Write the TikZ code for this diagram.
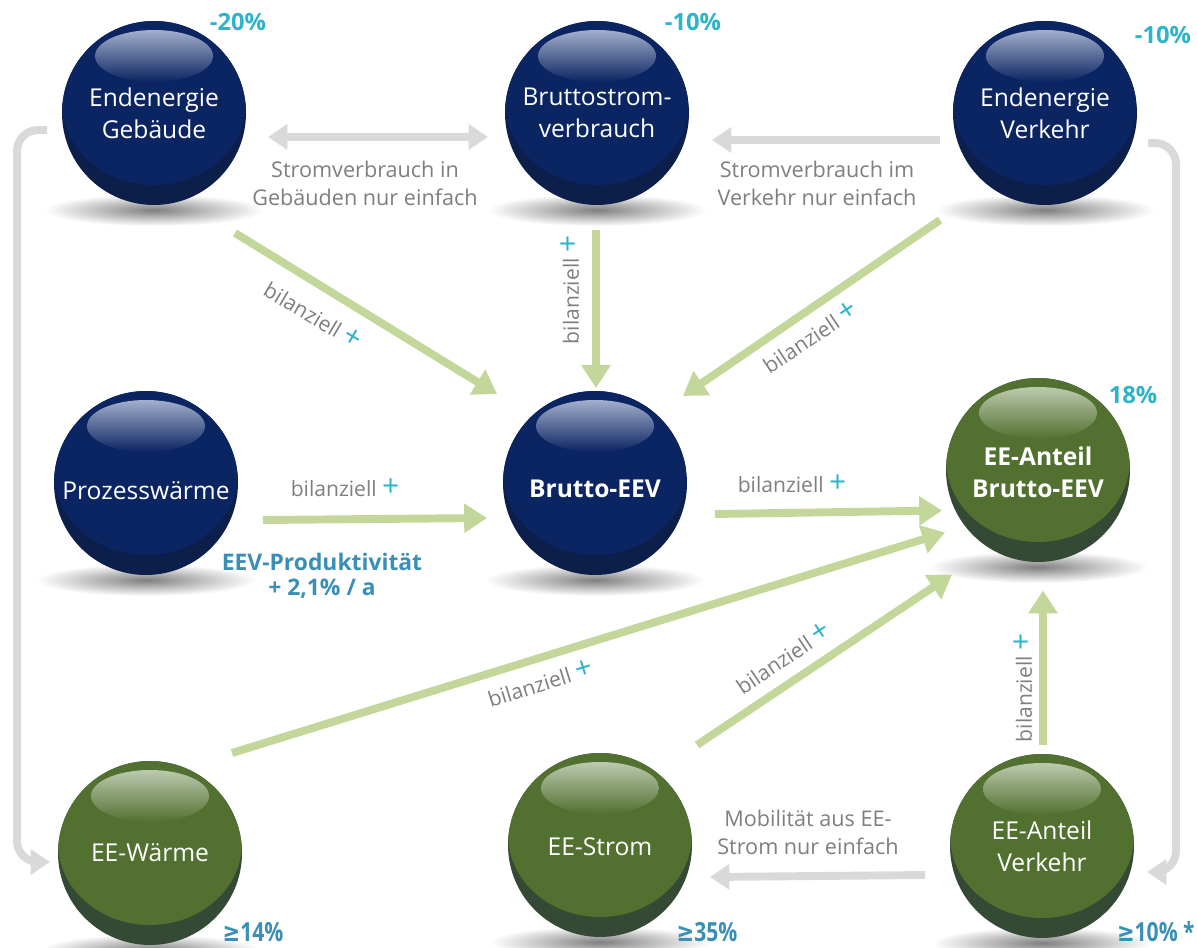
\documentclass[tikz,border=0pt]{standalone}
\usepackage{fontspec}
\setmainfont{Open Sans}
\newfontfamily\symfont{DejaVu Sans}
\usetikzlibrary{arrows.meta,calc}
\definecolor{bluebase}{HTML}{0B2462}
\definecolor{bluedark}{HTML}{0C1E4A}
\definecolor{bluehi}{HTML}{A3AFCC}
\definecolor{greenbase}{HTML}{527131}
\definecolor{greendark}{HTML}{354A34}
\definecolor{greenhi}{HTML}{BCC9AE}
\definecolor{garrow}{HTML}{C4D79B}
\definecolor{grayarrow}{HTML}{D9D9D9}
\definecolor{labgray}{HTML}{7F7F7F}
\definecolor{pcteal}{HTML}{2BB4CA}
\definecolor{pblue}{HTML}{3A8FB7}
\newcommand\plussign{\textcolor{pcteal}{\fontsize{17}{17}\selectfont +}}
\newcommand\myshadow[2]{%
  \shade[inner color=black!50, outer color=white] (#1,#2+97) ellipse[x radius=2.2cm, y radius=0.32cm];}
\newcommand\mysphere[8]{%
  \fill[#5] (#2,#3) circle[radius=1.84cm];
  \begin{scope}
    \clip (#2,#3) circle[radius=1.84cm];
    \fill[#4] (#2,#3-10) ellipse[x radius=1.84cm, y radius=1.64cm];
  \end{scope}
  \shade[top color=#6, bottom color=#4] (#2,#3-57) ellipse[x radius=1.18cm, y radius=0.52cm];
  \node[spheretext, #8] (#1) at (#2,#3) {#7};
}
\tikzset{
  spheretext/.style={align=center, text=white, font=\fontsize{14}{18}\selectfont},
  gline/.style={line width=4.5pt, draw=garrow, -{Triangle[width=16pt,length=13pt]}},
  grayline/.style={line width=4.5pt, draw=grayarrow, -{Triangle[width=14pt,length=11pt]}},
  glab/.style={align=center, text=labgray, font=\fontsize{12.3}{16}\selectfont},
  blab/.style={text=labgray, font=\fontsize{12}{14}\selectfont, inner sep=0pt},
  pct/.style={text=pcteal, font=\bfseries\fontsize{13.5}{14}\selectfont},
  pctb/.style={text=pblue, font=\bfseries\fontsize{13}{14}\selectfont},
  pctc/.style={text=pblue, font=\bfseries\fontsize{15}{16}\selectfont, xscale=0.8, inner sep=0pt},
}
\begin{document}
\begin{tikzpicture}[x=0.02cm, y=-0.02cm]
\useasboundingbox (0,0) rectangle (1197,947);
\fill[white] (0,0) rectangle (1197,947);
% shadows
\myshadow{154}{113}
\myshadow{597}{113}
\myshadow{1045}{113}
\myshadow{146}{483}
\myshadow{595}{483}
\myshadow{1038}{470}
\myshadow{150}{853}
\myshadow{600}{845}
\myshadow{1042}{846}
% spheres
\mysphere{A}{154}{113}{bluebase}{bluedark}{bluehi}{Endenergie\\Gebäude}{}
\mysphere{B}{597}{113}{bluebase}{bluedark}{bluehi}{Bruttostrom-\\verbrauch}{}
\mysphere{C}{1045}{113}{bluebase}{bluedark}{bluehi}{Endenergie\\Verkehr}{}
\mysphere{D}{146}{483}{bluebase}{bluedark}{bluehi}{Prozesswärme}{yshift=-0.16cm}
\mysphere{E}{595}{483}{bluebase}{bluedark}{bluehi}{\bfseries Brutto-EEV}{yshift=-0.12cm}
\mysphere{F}{1038}{470}{greenbase}{greendark}{greenhi}{\bfseries EE-Anteil\\\bfseries Brutto-EEV}{yshift=-0.05cm}
\mysphere{G}{150}{853}{greenbase}{greendark}{greenhi}{EE-Wärme}{}
\mysphere{H}{600}{845}{greenbase}{greendark}{greenhi}{EE-Strom}{yshift=-0.04cm}
\mysphere{I}{1042}{846}{greenbase}{greendark}{greenhi}{EE-Anteil\\Verkehr}{}
% gray connectors
\draw[grayline, {Triangle[width=14pt,length=11pt]}-{Triangle[width=14pt,length=11pt]}] ($(A.center)+(114,24)$) -- ($(B.center)+(-109,24)$);
\draw[grayline] ($(C.center)+(-105,27)$) -- ($(B.center)+(115,27)$);
\draw[grayline] ($(I.center)+(-117,29)$) -- ($(H.center)+(110,30)$);
\draw[grayline, rounded corners=12pt] ($(A.center)+(-107,17)$) -- ++(-30,0) |- ($(G.center)+(-100,9)$);
\draw[grayline, rounded corners=12pt] ($(C.center)+(103,30)$) -- ++(28,0) |- ($(I.center)+(105,26)$);
% green connectors
\draw[gline] ($(A.center)+(81,120)$) -- ($(E.center)+(-98,-95)$);
\draw[gline] ($(B.center)+(-1,117)$) -- ($(E.center)+(1,-101)$);
\draw[gline] ($(C.center)+(-105,107)$) -- ($(E.center)+(88,-93)$);
\draw[gline] ($(D.center)+(117,29)$) -- ($(E.center)+(-108,29)$);
\draw[gline] ($(E.center)+(120,25)$) -- ($(F.center)+(-96,38)$);
\draw[gline] ($(G.center)+(82,-100)$) -- ($(F.center)+(-93,60)$);
\draw[gline] ($(H.center)+(97,-102)$) -- ($(F.center)+(-86,102)$);
\draw[gline] ($(I.center)+(1,-101)$) -- ($(F.center)+(5,118)$);
% gray labels
\node[glab] (t1) at (365,183) {Stromverbrauch in\\Gebäuden nur einfach};
\node[glab] (t2) at (817,183) {Stromverbrauch im\\Verkehr nur einfach};
\node[glab] (t3) at (808,832) {Mobilität aus EE-\\Strom nur einfach};
% bilanziell labels
\node[blab, rotate=-30.6] (b1) at (313,315) {bilanziell \plussign};
\node[blab, rotate=90] (b2) at (570,290) {bilanziell \plussign};
\node[blab, rotate=33.5] (b3) at (810,337) {bilanziell \plussign};
\node[blab] (b4) at (345,488) {bilanziell \plussign};
\node[blab] (b5) at (792,484) {bilanziell \plussign};
\node[blab, rotate=17.4] (b6) at (540,683) {bilanziell \plussign};
\node[blab, rotate=33.8] (b7) at (783,658) {bilanziell \plussign};
\node[blab, rotate=90] (b8) at (1023,688) {bilanziell \plussign};
% percentages
\node[pct] (p1) at (238,22) {-20\%};
\node[pct] (p2) at (693,22) {-10\%};
\node[pct] (p3) at (1163,35) {-10\%};
\node[pct] (p4) at (1133,395) {18\%};
\node[pctc] (p5) at (253,932) {{\symfont\bfseries ≥}14\%};
\node[pctc] (p6) at (707,932) {{\symfont\bfseries ≥}35\%};
\node[pctc, anchor=east] (p7) at (1195,932) {{\symfont\bfseries ≥}10\% *};
\node[pctb, align=center] (p8) at (322,576) {EEV-Produktivität\\+ 2,1\% / a};
\end{tikzpicture}
\end{document}
